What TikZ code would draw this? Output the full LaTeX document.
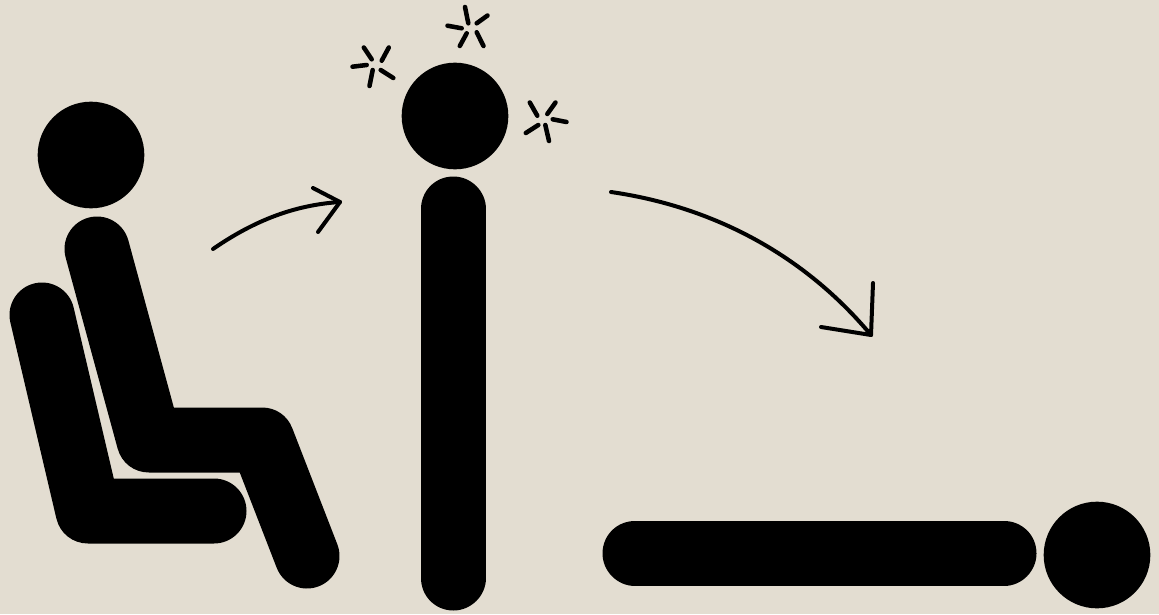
\documentclass[tikz,border=0pt]{standalone}
\usepackage{xcolor}
\definecolor{paper}{HTML}{E3DDD1}

\begin{document}
\begin{tikzpicture}[
    x=0.75pt, y=-0.75pt,
    limb/.style={draw=black, line width=48.75pt, line cap=round, line join=round},
    head/.style={fill=black},
    spark/.style={draw=black, line width=3.4pt, line cap=round},
    sketch/.style={draw=black, line width=3pt, line cap=round, line join=round}
]
\fill[paper] (0,0) rectangle (1159,614);

% seated
\fill[head] (91,155) circle (40pt);
\draw[limb] (42,315) -- (88,511) -- (214,511);
\draw[limb] (97,249) -- (149,440) -- (262,440) -- (307,556);

% standing
\fill[head] (455,116) circle (40pt);
\draw[limb] (453,209) -- (453,578);

% lying
\draw[limb] (635,553) -- (1004,553);
\fill[head] (1097,555) circle (40pt);

% sparks
\foreach \ax/\ay/\bx/\by in {
    465/7/468.3/23.3, 487.5/15.5/476.7/23.3, 447.5/25.7/461.7/28.3, 459.8/46/466.7/33.3, 483.5/46/476.7/32.3,
    363.8/47.5/371.7/59.3, 388.8/47.5/381.7/60.7, 352.5/66.7/366.7/65, 369.5/86/372.7/70, 393.3/78/380.7/70,
    529.8/102.5/537.3/115.7, 555.5/102.5/547.3/114, 566.5/122/552.7/119.3, 549/141/545.3/125, 525.8/133/538.3/125}
    \draw[spark] (\ax,\ay) -- (\bx,\by);

% arrows
\coordinate (up-start) at (213,249);
\coordinate (up-tip) at (340,202);
\coordinate (down-start) at (611,192);
\coordinate (down-tip) at (871,335);
\draw[sketch] (up-start) .. controls (255,220) and (295,205) .. (up-tip);
\draw[sketch] (313,188) -- (up-tip) -- (318,232);
\draw[sketch] (down-start) .. controls (715,207) and (805,256) .. (down-tip);
\draw[sketch] (873,283) -- (down-tip) -- (821,327);
\end{tikzpicture}
\end{document}
